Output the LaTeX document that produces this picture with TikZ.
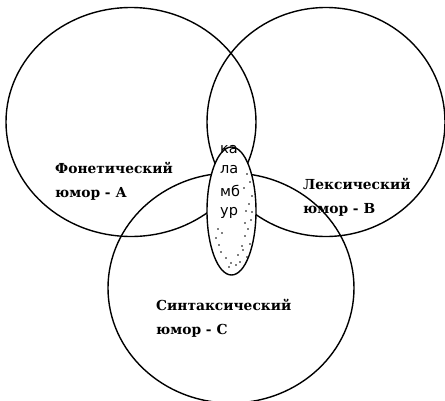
\documentclass[tikz,border=0pt]{standalone}
\usepackage{fontspec}
\setmainfont{DejaVu Serif}
\newfontfamily\punfont{DejaVu Sans}
\usetikzlibrary{shapes.geometric}
\begin{document}
\begin{tikzpicture}[x=1pt,y=-1pt,
  field/.style={draw, ellipse, line width=1.4pt, inner sep=0pt},
  lbl/.style={align=left, anchor=north west, inner sep=0pt,
    font=\fontsize{13.8}{24}\selectfont\bfseries},
  syl/.style={anchor=north west, inner sep=0pt,
    font=\punfont\fontsize{14.5}{14.5}\selectfont},
  speck/.style={fill=black, inner sep=0pt, minimum size=1.7pt, circle}]
\useasboundingbox (0,0) rectangle (445,400);
% three humour fields
\node[field, minimum width=250pt, minimum height=229pt] (A) at (131,122) {};
\node[field, minimum width=238pt, minimum height=229pt] (B) at (326,122) {};
\node[field, minimum width=246pt, minimum height=230pt] (C) at (231,288) {};
% pun in the middle
\node[field, fill=white, minimum width=49pt, minimum height=128pt] (P) at (231.5,211) {};
% stipple inside the pun ellipse
\foreach \px/\py [count=\i] in {247/174, 250/182, 244/188, 252/196, 249/204, 246/211,
   251/220, 248/229, 245/236, 250/244, 243/250, 247/257, 240/262, 236/265,
   231/263, 226/258, 221/252, 219/245, 216/238, 222/233, 218/229, 238/255,
   242/246, 252/212, 229/267, 245/223}
  \node[speck] (s\i) at (\px,\py) {};
% labels
\node[lbl] (la) at (55,162) {Фонетический\\юмор - А};
\node[lbl] (lb) at (303,178) {Лексический\\юмор - В};
\node[lbl] (lc) at (156,299) {Синтаксический\\юмор - С};
\node[syl] (k1) at (220,145) {ка};
\node[syl] (k2) at (220,165) {ла};
\node[syl] (k3) at (220,185) {мб};
\node[syl] (k4) at (220,207) {ур};
\end{tikzpicture}
\end{document}
